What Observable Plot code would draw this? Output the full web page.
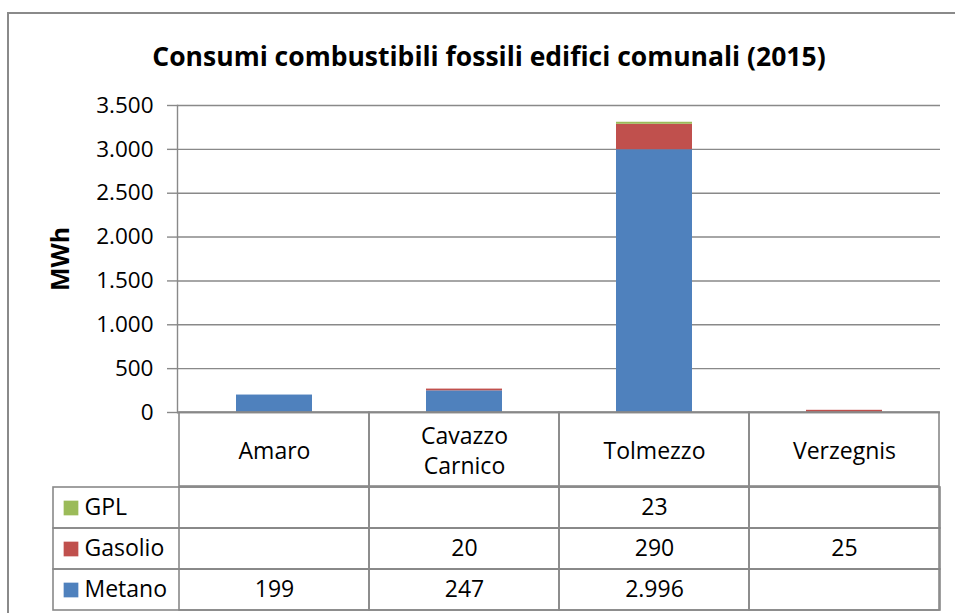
<!DOCTYPE html>
<html>
<head>
<meta charset="utf-8">
<script src="https://cdn.jsdelivr.net/npm/d3@7"></script>
<script src="https://cdn.jsdelivr.net/npm/@observablehq/plot@0.6"></script>
<style>
  html, body { margin: 0; padding: 0; background: #fff; }
  #wrap { position: relative; width: 955px; height: 613px; overflow: hidden; font-family: "Open Sans", sans-serif; }
  #border { position: absolute; left: 7px; top: 12px; width: 1000px; height: 700px; border: 2px solid #8a8a8a; box-sizing: border-box; }
  .layer { position: absolute; left: 0; }
  .layer svg { display: block; overflow: visible; }
</style>
</head>
<body>
<div id="wrap">
  <div id="border"></div>
  <div id="main" class="layer" style="top:0px"></div>
  <div id="head" class="layer" style="top:411px"></div>
  <div id="rows" class="layer" style="top:485px"></div>
</div>
<script>
// ---- data ----
const title = "Consumi combustibili fossili edifici comunali (2015)";
const yLabel = "MWh";
const categories = ["Amaro", "Cavazzo Carnico", "Tolmezzo", "Verzegnis"];
const series = ["Metano", "Gasolio", "GPL"];               // stacking order (bottom -> top)
const tableOrder = ["GPL", "Gasolio", "Metano"];          // table row order
const colors = ["#4F81BD", "#C0504D", "#9BBB59"];
const metano  = [199, 247, 2996, null];
const gasolio = [null, 20, 290, 25];
const gpl     = [null, null, 23, null];
const yTicks = [0, 500, 1000, 1500, 2000, 2500, 3000, 3500];

const seriesValues = {Metano: metano, Gasolio: gasolio, GPL: gpl};
const rows = [];
for (const s of series) {
  categories.forEach((c, i) => rows.push({cat: c, series: s, value: seriesValues[s][i]}));
}

const it = d3.formatLocale({decimal: ",", thousands: ".", grouping: [3], currency: ["€", ""]});
const fmt = it.format(",d");

const gray = "#898989";
const FONT = "'Open Sans', sans-serif";
const FS = 23;
const W = 955;
const plotLeft = 177, plotRight = 940;

// ---- main chart ----
const main = Plot.plot({
  width: W,
  height: 413,
  marginTop: 105,
  marginBottom: 1,
  marginLeft: plotLeft,
  marginRight: W - plotRight,
  style: {fontFamily: FONT, fontSize: "22px", background: "transparent", color: "#000"},
  x: {type: "band", domain: categories, paddingInner: 0.6, paddingOuter: 0.3, axis: null},
  y: {domain: [0, 3500], nice: false},
  color: {domain: series, range: colors},
  marks: [
    Plot.gridY(yTicks, {stroke: gray, strokeOpacity: 1, strokeWidth: 1.4}),
    Plot.barY(rows.filter(d => d.value != null), {x: "cat", y: "value", fill: "series"}),
    Plot.axisY({ticks: yTicks, tickFormat: fmt, tickSize: 10, tickPadding: 14, stroke: gray, strokeWidth: 1.4, label: null, fontSize: 22.5}),
    Plot.frame({anchor: "left", stroke: gray, strokeWidth: 1.4}),
    Plot.ruleY([0], {stroke: gray, strokeWidth: 1.6}),
    Plot.text([title], {frameAnchor: "top", lineAnchor: "middle", dx: -70, dy: -48, fontWeight: "bold", fontSize: 26.5}),
    Plot.text([yLabel], {frameAnchor: "left", textAnchor: "middle", lineAnchor: "middle", dx: -117, rotate: -90, fontWeight: "bold", fontSize: 25})
  ]
});
document.getElementById("main").appendChild(main);

// ---- table header (category names) ----
const head = Plot.plot({
  width: W,
  height: 76,
  marginTop: 1,
  marginBottom: 1,
  marginLeft: plotLeft,
  marginRight: W - plotRight,
  style: {fontFamily: FONT, fontSize: FS + "px", background: "transparent", color: "#000"},
  x: {type: "band", domain: categories, padding: 0, axis: null},
  marks: [
    Plot.cell(categories, {x: d => d, stroke: gray, strokeWidth: 1.6, fill: "none"}),
    Plot.text(categories, {x: d => d, text: d => d, frameAnchor: "middle", lineWidth: 5.5, lineHeight: 1.3, fontSize: FS})
  ]
});
document.getElementById("head").appendChild(head);

// ---- table rows with legend ----
const tbl = Plot.plot({
  width: W,
  height: 128,
  marginTop: 1,
  marginBottom: 2,
  marginLeft: 53,
  marginRight: W - plotRight,
  style: {fontFamily: FONT, fontSize: FS + "px", background: "transparent", color: "#000"},
  x: {type: "band", domain: categories, range: [plotLeft, plotRight], padding: 0, axis: null},
  y: {type: "band", domain: tableOrder, padding: 0, axis: null},
  color: {domain: series, range: colors},
  marks: [
    Plot.cell(tableOrder, {y: d => d, stroke: gray, strokeWidth: 1.6, fill: "none"}),
    Plot.cell(rows, {x: "cat", y: "series", stroke: gray, strokeWidth: 1.6, fill: "none"}),
    Plot.text(rows.filter(d => d.value != null), {x: "cat", y: "series", text: d => fmt(d.value), fontSize: FS}),
    Plot.dot(tableOrder, {y: d => d, frameAnchor: "left", dx: 17.5, symbol: "square", r: 8.3, fill: d => d, stroke: null}),
    Plot.text(tableOrder, {y: d => d, frameAnchor: "left", dx: 31, textAnchor: "start", text: d => d, fontSize: FS})
  ]
});
document.getElementById("rows").appendChild(tbl);
</script>
</body>
</html>
